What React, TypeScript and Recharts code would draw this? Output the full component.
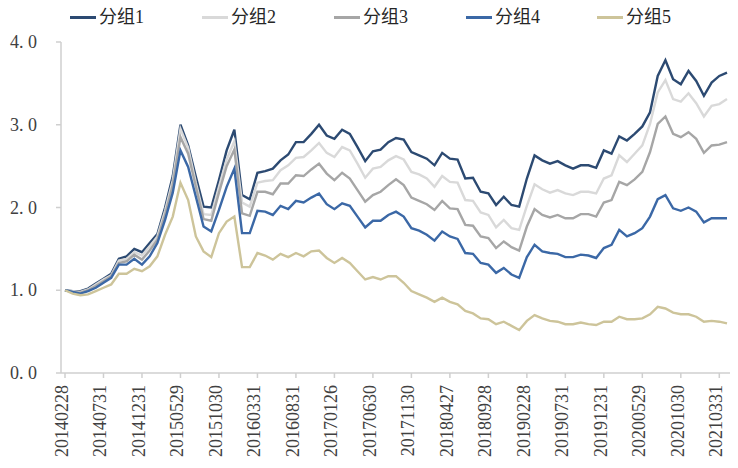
import { LineChart, Line, XAxis, YAxis } from 'recharts';

// month-end trading dates
const dates = [
  '20140228', '20140331', '20140430', '20140530', '20140630', '20140731', '20140829', '20140930', '20141031', '20141128', '20141231',
  '20150130', '20150227', '20150331', '20150430', '20150529', '20150630', '20150731', '20150831', '20150930', '20151030', '20151130', '20151231',
  '20160129', '20160229', '20160331', '20160429', '20160531', '20160630', '20160729', '20160831', '20160930', '20161031', '20161130', '20161230',
  '20170126', '20170228', '20170331', '20170428', '20170531', '20170630', '20170731', '20170831', '20170929', '20171031', '20171130', '20171229',
  '20180131', '20180228', '20180330', '20180427', '20180531', '20180629', '20180731', '20180831', '20180928', '20181031', '20181130', '20181228',
  '20190131', '20190228', '20190329', '20190430', '20190531', '20190628', '20190731', '20190830', '20190930', '20191031', '20191129', '20191231',
  '20200123', '20200228', '20200331', '20200430', '20200529', '20200630', '20200731', '20200831', '20200930', '20201030', '20201130', '20201231',
  '20210129', '20210226', '20210331', '20210430',
];

const group1 = [
  1.00, 0.99, 0.99, 1.02, 1.08, 1.14, 1.20, 1.38, 1.41, 1.50, 1.46, 1.57, 1.68, 2.00, 2.38, 3.00,
  2.75, 2.37, 2.01, 2.00, 2.33, 2.69, 2.94,
  2.15, 2.10, 2.42, 2.44, 2.47, 2.57, 2.64, 2.79,
  2.79, 2.89, 3.00, 2.87, 2.83, 2.94, 2.89, 2.73, 2.56, 2.68,
  2.70, 2.79, 2.84, 2.82, 2.67, 2.63, 2.59, 2.51, 2.66, 2.59,
  2.58, 2.35, 2.36, 2.19, 2.17, 2.03, 2.13, 2.03, 2.01, 2.35,
  2.63, 2.57, 2.53, 2.56, 2.51, 2.47, 2.51, 2.51, 2.48, 2.69,
  2.65, 2.86, 2.81, 2.89, 2.98, 3.15, 3.59, 3.78, 3.55, 3.49,
  3.65, 3.53, 3.35, 3.51, 3.59, 3.63,
];

const group2 = [
  1.00, 0.99, 0.98, 1.01, 1.07, 1.13, 1.18, 1.36, 1.38, 1.46, 1.42, 1.53, 1.65, 1.96, 2.33, 2.95,
  2.72, 2.30, 1.92, 1.91, 2.25, 2.58, 2.80,
  2.06, 2.01, 2.30, 2.32, 2.33, 2.45, 2.51, 2.60,
  2.61, 2.69, 2.78, 2.66, 2.61, 2.73, 2.69, 2.53, 2.36, 2.47,
  2.49, 2.57, 2.62, 2.58, 2.43, 2.40, 2.35, 2.25, 2.38, 2.31,
  2.30, 2.09, 2.08, 1.94, 1.91, 1.76, 1.85, 1.75, 1.73, 2.02,
  2.28, 2.22, 2.18, 2.21, 2.17, 2.15, 2.19, 2.19, 2.17, 2.35,
  2.39, 2.63, 2.55, 2.65, 2.75, 3.01, 3.39, 3.54, 3.31, 3.28,
  3.38, 3.26, 3.10, 3.23, 3.25, 3.31,
];

const group3 = [
  1.00, 0.98, 0.97, 1.00, 1.05, 1.11, 1.17, 1.33, 1.35, 1.43, 1.37, 1.48, 1.61, 1.91, 2.27, 2.85,
  2.65, 2.25, 1.86, 1.84, 2.18, 2.50, 2.70,
  1.93, 1.90, 2.19, 2.19, 2.16, 2.29, 2.29, 2.39,
  2.38, 2.46, 2.53, 2.41, 2.33, 2.42, 2.35, 2.21, 2.07, 2.15,
  2.19, 2.27, 2.34, 2.27, 2.12, 2.08, 2.04, 1.97, 2.08, 1.99,
  1.98, 1.79, 1.78, 1.65, 1.63, 1.51, 1.59, 1.52, 1.48, 1.77,
  1.98, 1.91, 1.88, 1.91, 1.87, 1.87, 1.92, 1.92, 1.89, 2.06,
  2.09, 2.31, 2.27, 2.34, 2.43, 2.67, 3.01, 3.10, 2.89, 2.85,
  2.91, 2.83, 2.66, 2.75, 2.76, 2.79,
];

const group4 = [
  1.00, 0.98, 0.96, 0.99, 1.03, 1.09, 1.15, 1.31, 1.31, 1.38, 1.31, 1.41, 1.57, 1.85, 2.18, 2.69,
  2.49, 2.13, 1.77, 1.71, 1.97, 2.25, 2.47,
  1.69, 1.69, 1.96, 1.95, 1.91, 2.02, 1.98, 2.08,
  2.06, 2.12, 2.17, 2.04, 1.98, 2.05, 2.02, 1.89, 1.76, 1.84,
  1.84, 1.91, 1.95, 1.89, 1.75, 1.72, 1.67, 1.60, 1.71, 1.65,
  1.62, 1.45, 1.44, 1.33, 1.31, 1.21, 1.27, 1.19, 1.15, 1.40,
  1.55, 1.47, 1.45, 1.44, 1.40, 1.40, 1.43, 1.42, 1.39, 1.51,
  1.55, 1.73, 1.65, 1.69, 1.75, 1.89, 2.10, 2.15, 1.99, 1.96,
  2.00, 1.95, 1.82, 1.87, 1.87, 1.87,
];

const group5 = [
  1.00, 0.96, 0.94, 0.95, 0.99, 1.03, 1.07, 1.20, 1.20, 1.26, 1.23, 1.29, 1.41, 1.67, 1.89, 2.30,
  2.09, 1.65, 1.47, 1.40, 1.69, 1.83, 1.89,
  1.28, 1.28, 1.45, 1.42, 1.37, 1.44, 1.40, 1.45,
  1.41, 1.47, 1.48, 1.39, 1.33, 1.39, 1.33, 1.23, 1.13, 1.16,
  1.13, 1.17, 1.17, 1.09, 0.99, 0.95, 0.91, 0.86, 0.91, 0.86,
  0.83, 0.75, 0.72, 0.66, 0.65, 0.59, 0.62, 0.57, 0.52, 0.63,
  0.70, 0.66, 0.63, 0.62, 0.59, 0.59, 0.61, 0.59, 0.58, 0.62,
  0.62, 0.68, 0.65, 0.65, 0.66, 0.71, 0.80, 0.78, 0.73, 0.71,
  0.71, 0.68, 0.62, 0.63, 0.62, 0.60,
];

const seriesNames = ['分组1', '分组2', '分组3', '分组4', '分组5'];
const seriesKeys = ['g1', 'g2', 'g3', 'g4', 'g5'];
const seriesColors = ['#2c4a72', '#d9d9d9', '#a6a6a6', '#3b68a6', '#cdc49a'];
const yTicks = [0, 1, 2, 3, 4];

const data = dates.map((d, i) => ({
  date: d,
  g1: group1[i],
  g2: group2[i],
  g3: group3[i],
  g4: group4[i],
  g5: group5[i],
}));

const FONT = 'Liberation Serif';
const AXIS_GRAY = '#cfcfcf';

function DateTick(props: any) {
  const { x, y, payload } = props;
  const tx = x - 3;
  return (
    <text
      x={tx}
      y={y}
      transform={`rotate(-90, ${tx}, ${y})`}
      textAnchor="end"
      dominantBaseline="central"
      fill="#404040"
      fontSize={18}
      fontFamily={FONT}
    >
      {payload.value}
    </text>
  );
}

function ValueTick(props: any) {
  const { x, y, payload } = props;
  return (
    <text x={x} y={y} textAnchor="end" dominantBaseline="central" fill="#404040" fontSize={18} fontFamily={FONT} style={{ whiteSpace: 'pre' }}>
      {Number(payload.value).toFixed(1).replace('.', '. ')}
    </text>
  );
}

export default function App() {
  const legendLeft = [70, 202, 334, 466, 597];
  return (
    <div style={{ position: 'absolute', left: 0, top: 0, width: 738, height: 468, background: '#fff' }}>
      {/* legend */}
      {seriesNames.map((name, i) => (
        <div key={name} style={{ position: 'absolute', left: legendLeft[i], top: 6, height: 22, display: 'flex', alignItems: 'center' }}>
          <span style={{ display: 'inline-block', width: 26, height: 3, background: seriesColors[i] }} />
          <span style={{ marginLeft: 3, fontSize: 18, fontFamily: FONT + ', "Noto Sans CJK SC"', color: '#262626', lineHeight: '22px' }}>{name}</span>
        </div>
      ))}

      <LineChart width={738} height={468} data={data} margin={{ top: 42, right: 8, left: 5, bottom: 15 }}>
        <XAxis
          dataKey="date"
          interval={4}
          height={80}
          padding={{ left: 4, right: 3 }}
          tick={<DateTick />}
          tickSize={5}
          tickMargin={7}
          axisLine={{ stroke: AXIS_GRAY, strokeWidth: 1.5 }}
          tickLine={{ stroke: AXIS_GRAY, strokeWidth: 1.5 }}
        />
        <YAxis
          domain={[0, 4]}
          ticks={yTicks}
          width={56}
          tick={<ValueTick />}
          tickSize={5}
          tickMargin={19}
          axisLine={{ stroke: AXIS_GRAY, strokeWidth: 1.5 }}
          tickLine={{ stroke: AXIS_GRAY, strokeWidth: 1.5 }}
        />
        {seriesKeys.map((k, i) => (
          <Line
            key={k}
            type="linear"
            dataKey={k}
            name={seriesNames[i]}
            stroke={seriesColors[i]}
            strokeWidth={2.4}
            dot={false}
            activeDot={false}
            isAnimationActive={false}
          />
        ))}
      </LineChart>
    </div>
  );
}
